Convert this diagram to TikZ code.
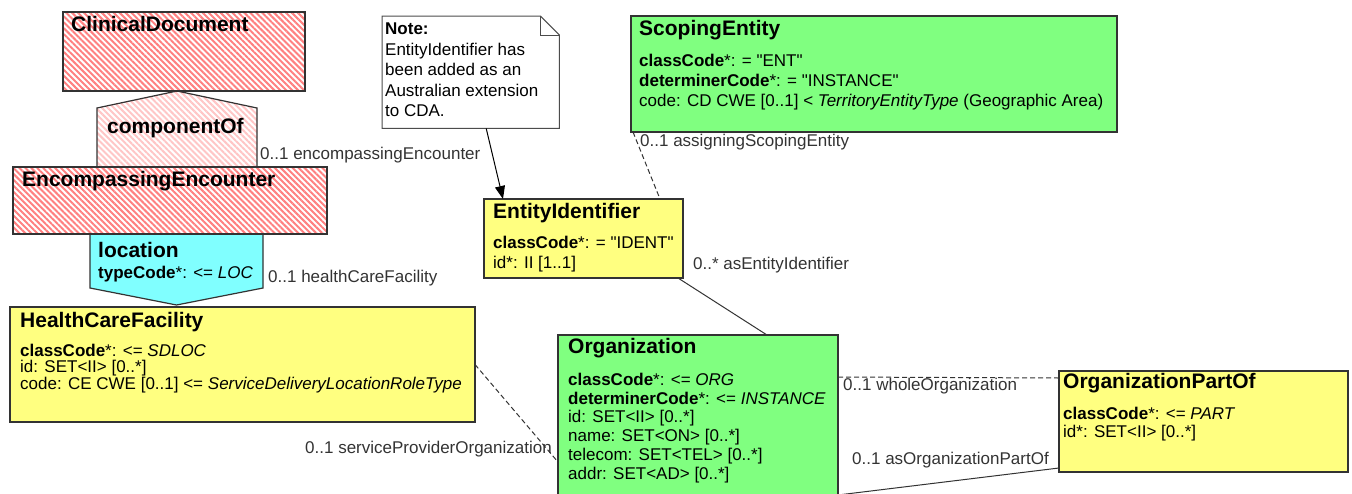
\documentclass[tikz,border=0pt]{standalone}
\usepackage{fontspec}
\setmainfont{Liberation Sans}
\usepackage{xcolor}
\usepackage{tikz}
\usetikzlibrary{positioning, arrows.meta, patterns.meta, calc}
\definecolor{hatchred}{HTML}{FF8080}
\definecolor{hatchpink}{HTML}{FFC6C6}
\definecolor{actcyan}{HTML}{80FFFF}
\definecolor{roleyellow}{HTML}{FFFF80}
\definecolor{entgreen}{HTML}{80FF80}
\definecolor{umlline}{HTML}{333333}
\newcommand{\titlefont}{\fontsize{21}{24}\selectfont\bfseries}
\newcommand{\attrfont}[1][19]{\fontsize{17}{#1}\selectfont}
\newcommand{\dq}{\textquotedbl}

\begin{document}
\begin{tikzpicture}[
  x=1pt, y=-1pt,
  >={Triangle[length=13pt, width=10pt]},
  classbox/.style={draw=umlline, line width=1.2pt, anchor=north west,
    inner sep=0pt, outer sep=0pt},
  hatched/.style={pattern={Lines[angle=-45, distance=4.2pt, line width=2pt]},
    pattern color=#1},
  actpath/.style={draw=umlline, line width=1.2pt},
  title/.style={anchor=base west, inner sep=0pt, font=\titlefont},
  attrs/.style={anchor=north west, inner sep=0pt, align=left,
    font={\attrfont[#1]}},
  attrs/.default=19,
  rolename/.style={anchor=base west, inner sep=0pt, font=\attrfont,
    text=black!80},
  assoc/.style={draw=umlline, line width=1pt},
  dassoc/.style={assoc, dash pattern=on 5pt off 3pt},
  arrow/.style={->, draw=black, line width=1pt},
]
\useasboundingbox (0,0) rectangle (1352,493);
\clip (0,0) rectangle (1352,493);

% ===== LEFT COLUMN: act relationships =====
\draw[actpath, hatched=hatchpink] (97,167) -- (97,108) -- (177,91)
  -- (257,108) -- (257,167) -- cycle;
\draw[actpath, fill=actcyan] (90,234) -- (90,288) -- (176.5,305)
  -- (263,288) -- (263,234) -- cycle;

\node[classbox, hatched=hatchred, minimum width=242pt, minimum height=79pt]
  (ClinicalDocument) at (63,12) {};
\node[title] (cdtitle) at (71,31) {ClinicalDocument};

\node[title] (compof) at (107,133) {componentOf};

\node[classbox, hatched=hatchred, minimum width=314pt, minimum height=67pt]
  (EncompassingEncounter) at (13,167) {};
\node[title] (eetitle) at (22,186) {EncompassingEncounter};

\node[title] (loctitle) at (98,257) {location};
\node[anchor=base west, inner sep=0pt, font=\attrfont] (loctype) at (98,278)
  {\textbf{typeCode}*: <= \textit{LOC}};

% HealthCareFacility
\node[classbox, fill=roleyellow, minimum width=465pt, minimum height=115pt]
  (HealthCareFacility) at (10,307) {};
\node[title] (hcftitle) at (20,327) {HealthCareFacility};
\node[attrs=16.5] (hcfattrs) at (20,343.8)
  {\textbf{classCode}*: <= \textit{SDLOC}\\
   id: SET<II> [0..*]\\
   code: CE CWE [0..1] <= \textit{ServiceDeliveryLocationRoleType}};

% ===== NOTE =====
\node[anchor=north west, inner sep=0pt, minimum width=177pt,
  minimum height=112pt] (Note) at (382,16) {};
\draw[assoc, fill=white, draw=black!70] (Note.north west)
  -- ([xshift=-19pt]Note.north east) -- ([yshift=-19pt]Note.north east)
  -- (Note.south east) -- (Note.south west) -- cycle;
\draw[assoc, draw=black!70] ([xshift=-19pt]Note.north east)
  -- ([xshift=-19pt, yshift=-19pt]Note.north east)
  -- ([yshift=-19pt]Note.north east);
\node[attrs=20.5] (notetext) at (385,22.8)
  {\textbf{Note:}\\
   EntityIdentifier has\\
   been added as an\\
   Australian extension\\
   to CDA.};

% ===== RIGHT PART: entities =====
\node[classbox, fill=entgreen, minimum width=486pt, minimum height=116pt]
  (ScopingEntity) at (631,16) {};
\node[title] (setitle) at (639,35) {ScopingEntity};
\node[attrs=20] (seattrs) at (639,53.8)
  {\textbf{classCode}*: = \dq ENT\dq\\
   \textbf{determinerCode}*: = \dq INSTANCE\dq\\
   code: CD CWE [0..1] < \textit{TerritoryEntityType} (Geographic Area)};

\node[classbox, fill=roleyellow, minimum width=199pt, minimum height=79pt]
  (EntityIdentifier) at (484,199) {};
\node[title] (eititle) at (493,218) {EntityIdentifier};
\node[attrs=20] (eiattrs) at (493,235.8)
  {\textbf{classCode}*: = \dq IDENT\dq\\
   id*: II [1..1]};

\node[classbox, fill=entgreen, minimum width=280pt, minimum height=190pt]
  (Organization) at (558,335) {};
\node[title] (orgtitle) at (568,353) {Organization};
\node[attrs=18.8] (orgattrs) at (568,372.8)
  {\textbf{classCode}*: <= \textit{ORG}\\
   \textbf{determinerCode}*: <= \textit{INSTANCE}\\
   id: SET<II> [0..*]\\
   name: SET<ON> [0..*]\\
   telecom: SET<TEL> [0..*]\\
   addr: SET<AD> [0..*]};

\node[classbox, fill=roleyellow, minimum width=289pt, minimum height=101pt]
  (OrganizationPartOf) at (1059,371) {};
\node[title] (opotitle) at (1063,388) {OrganizationPartOf};
\node[attrs=18.5] (opoattrs) at (1063,406.8)
  {\textbf{classCode}*: <= \textit{PART}\\
   id*: SET<II> [0..*]};

% ===== Associations =====
\draw[arrow] ([xshift=15.5pt]Note.south)
  -- ([xshift=19pt]EntityIdentifier.north west);
\draw[dassoc] ([xshift=2pt]ScopingEntity.south west)
  -- ([xshift=-23pt]EntityIdentifier.north east);
\draw[assoc] ([xshift=-5pt]EntityIdentifier.south east)
  -- ([xshift=209pt]Organization.north west);
\draw[dassoc] (HealthCareFacility.east)
  -- ([yshift=-127pt]Organization.north west);
\draw[dassoc] ([yshift=-42pt]Organization.north east)
  -- ([yshift=-7pt]OrganizationPartOf.north west);
\draw[assoc] ([yshift=4pt]OrganizationPartOf.south west)
  -- ([yshift=-160pt]Organization.north east);

% Role names
\node[rolename] (rnee) at (260,159) {0..1 encompassingEncounter};
\node[rolename] (rnhcf) at (268,282) {0..1 healthCareFacility};
\node[rolename] (rnspo) at (305,453) {0..1 serviceProviderOrganization};
\node[rolename] (rnse) at (640,146) {0..1 assigningScopingEntity};
\node[rolename] (rnei) at (693,269) {0..* asEntityIdentifier};
\node[rolename] (rnwo) at (843,390) {0..1 wholeOrganization};
\node[rolename] (rnopo) at (852,464) {0..1 asOrganizationPartOf};

\end{tikzpicture}
\end{document}
